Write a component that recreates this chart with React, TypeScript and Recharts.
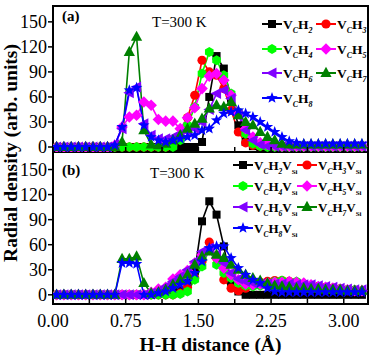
import React from 'react';
import { LineChart, Line, XAxis, YAxis, ReferenceArea, Legend } from 'recharts';

const distance = [0.0375, 0.1125, 0.1875, 0.2625, 0.3375, 0.4125, 0.4875, 0.5625, 0.6375, 0.7125, 0.7875, 0.8625, 0.9375, 1.0125, 1.0875, 1.1625, 1.2375, 1.3125, 1.3875, 1.4625, 1.5375, 1.6125, 1.6875, 1.7625, 1.8375, 1.9125, 1.9875, 2.0625, 2.1375, 2.2125, 2.2875, 2.3625, 2.4375, 2.5125, 2.5875, 2.6625, 2.7375, 2.8125, 2.8875, 2.9625, 3.0375, 3.1125, 3.1875];

const xTicks = [0, 0.375, 0.75, 1.125, 1.5, 1.875, 2.25, 2.625, 3.0];
const xTickLabels = ['0.00', '', '0.75', '', '1.50', '', '2.25', '', '3.00'];
const yTicks = [0, 30, 60, 90, 120, 150];

// panel (a): VCHn
const A_VCH2 = [0,0,0,0,0,0,0,0,0,0, 0,0,0,0,0,0,0,0,0,0, 6,60,109,94,58,26,6,1,0,0, 0,0,0,0,0,0,0,0,0,0, 0,0,0];
const A_VCH3 = [0,0,0,0,0,0,0,0,0,0, 0,0,0,0,0,0,3,12,35,62, 104,90,86,70,44,18,5,2,1,1, 1,1,1,1,1,1,1,1,1,1, 1,1,1];
const A_VCH4 = [0,0,0,0,0,0,0,0,0,0, 0,0,0,0,0,0,0,8,26,48, 88,114,104,86,64,42,16,4,1,0, 0,0,0,0,0,0,0,0,0,0, 0,0,0];
const A_VCH5 = [0,0,0,0,0,0,0,0,2,24, 36,38,54,50,33,31,31,22,35,47, 70,85,88,80,62,40,22,12,5,3, 2,1,1,1,1,1,1,1,1,1, 1,1,1];
const A_VCH6 = [0,0,0,0,0,0,0,0,3,22, 65,72,28,14,10,10,12,16,18,22, 30,45,64,68,58,38,20,8,3,1, 1,1,1,1,1,1,1,1,1,1, 1,1,1];
const A_VCH7 = [0,0,0,0,0,0,0,0,0,6, 114,132,20,3,2,4,8,14,22,28, 34,46,50,48,54,38,30,26,18,12, 8,4,3,3,3,3,3,3,3,3, 3,3,3];
const A_VCH8 = [0,0,0,0,0,0,0,0,2,24, 68,71,26,12,8,6,8,10,12,14, 20,22,32,40,42,44,40,36,30,24, 18,12,7,5,4,4,4,4,4,4, 4,4,4];

// panel (b): VCHnVSi
const B_VCH2 = [0,0,0,0,0,0,0,0,0,0, 0,0,0,0,2,3,4,5,14,28, 88,112,96,58,15,4,0,0,0,0, 0,0,0,0,0,0,0,0,0,0, 0,0,0];
const B_VCH3 = [0,0,0,0,0,0,0,0,0,0, 0,0,0,0,0,0,0,2,9,20, 40,63,44,18,8,5,8,12,15,16, 17,17,16,15,13,11,10,9,8,7, 6,5,5];
const B_VCH4 = [0,0,0,0,0,0,0,0,0,0, 0,0,0,0,0,0,0,1,4,18, 34,54,36,26,20,14,11,10,11,13, 16,17,15,16,12,10,9,8,7,7, 6,6,5];
const B_VCH5 = [0,0,0,0,0,0,0,0,0,0, 0,0,0,3,7,9,19,24,29,38, 48,54,44,32,24,18,13,12,13,14, 15,15,16,15,14,12,10,9,8,7, 6,5,5];
const B_VCH6 = [0,0,0,0,0,0,0,0,0,0, 0,0,0,2,5,10,16,22,30,40, 52,56,48,38,26,19,16,14,13,13, 13,13,13,12,12,12,11,10,9,8, 7,6,6];
const B_VCH7 = [0,0,0,0,0,0,0,0,0,43, 43,46,14,2,3,6,12,18,24,36, 46,52,48,44,36,30,24,20,17,14, 11,10,9,8,8,7,7,6,6,6, 5,5,5];
const B_VCH8 = [0,0,0,0,0,0,0,0,0,38, 38,37,0,0,2,4,8,12,16,26, 40,56,58,58,44,32,24,18,14,8, 4,3,3,3,3,3,3,3,3,3, 3,3,3];

const hydrogen = ['2', '3', '4', '5', '6', '7', '8'];
const colors = ['#000000', '#ff0000', '#00ff00', '#ff00ff', '#8000ff', '#008000', '#0000ff'];
const shapes = ['square', 'circle', 'hexagon', 'diamond', 'triangleLeft', 'triangleUp', 'star'];

const seriesA = [A_VCH2, A_VCH3, A_VCH4, A_VCH5, A_VCH6, A_VCH7, A_VCH8];
const seriesB = [B_VCH2, B_VCH3, B_VCH4, B_VCH5, B_VCH6, B_VCH7, B_VCH8];

const FONT = '"Liberation Serif", "Times New Roman", serif';

const buildRows = (series: number[][]) =>
  distance.map((d, i) => {
    const row: any = { d };
    series.forEach((s, j) => {
      row['s' + j] = s[i];
    });
    return row;
  });

const rowsA = buildRows(seriesA);
const rowsB = buildRows(seriesB);

function Marker({ cx, cy, shape, color }: { cx: number; cy: number; shape: string; color: string }) {
  if (cx == null || cy == null || isNaN(cx) || isNaN(cy)) return null;
  switch (shape) {
    case 'square':
      return <rect x={cx - 4} y={cy - 4} width={8} height={8} fill={color} />;
    case 'circle':
      return <circle cx={cx} cy={cy} r={4.6} fill={color} />;
    case 'hexagon': {
      const pts: string[] = [];
      for (let i = 0; i < 6; i++) {
        const a = (Math.PI / 3) * i + Math.PI / 6;
        pts.push(`${cx + 5 * Math.cos(a)},${cy + 5 * Math.sin(a)}`);
      }
      return <polygon points={pts.join(' ')} fill={color} />;
    }
    case 'diamond':
      return <polygon points={`${cx},${cy - 5.8} ${cx + 5.8},${cy} ${cx},${cy + 5.8} ${cx - 5.8},${cy}`} fill={color} />;
    case 'triangleLeft':
      return <polygon points={`${cx - 6},${cy} ${cx + 4.5},${cy - 5.5} ${cx + 4.5},${cy + 5.5}`} fill={color} />;
    case 'triangleUp':
      return <polygon points={`${cx},${cy - 6.2} ${cx + 5.6},${cy + 4} ${cx - 5.6},${cy + 4}`} fill={color} />;
    case 'star': {
      const pts: string[] = [];
      for (let i = 0; i < 10; i++) {
        const r = i % 2 === 0 ? 6 : 2.5;
        const a = -Math.PI / 2 + (Math.PI / 5) * i;
        pts.push(`${cx + r * Math.cos(a)},${cy + r * Math.sin(a)}`);
      }
      return <polygon points={pts.join(' ')} fill={color} />;
    }
    default:
      return null;
  }
}

const makeXTick = (showLabels: boolean) => (props: any) => {
  const { x, y, payload } = props;
  const idx = xTicks.indexOf(payload.value);
  const label = idx >= 0 ? xTickLabels[idx] : '';
  return (
    <g>
      <line x1={x} y1={y} x2={x} y2={y - 5} stroke="#000" strokeWidth={1.5} />
      {showLabels && label ? (
        <text x={x} y={y + 22.5} textAnchor="middle" fontSize={18} fontFamily={FONT} fill="#000">
          {label}
        </text>
      ) : null}
    </g>
  );
};

function LegendLabel({ n, withSi }: { n: string; withSi: boolean }) {
  const big = withSi ? 13 : 13.5;
  const small = withSi ? 7.5 : 8;
  const sub: React.CSSProperties = { fontSize: small, fontStyle: 'italic', verticalAlign: 'sub', lineHeight: 0 };
  const subSi: React.CSSProperties = { fontSize: small - 0.5, verticalAlign: 'sub', lineHeight: 0 };
  return (
    <span style={{ fontFamily: FONT, fontWeight: 'bold', fontSize: big, color: '#000', whiteSpace: 'nowrap' }}>
      V<span style={sub}>C</span>H<span style={sub}>{n}</span>
      {withSi ? (
        <>
          V<span style={subSi}>Si</span>
        </>
      ) : null}
    </span>
  );
}

const makeLegend = (withSi: boolean, colW: number, rowH: number) => () => (
  <div style={{ display: 'grid', gridTemplateColumns: `${colW}px ${colW}px`, gridAutoRows: `${rowH}px` }}>
    {hydrogen.map((n, i) => (
      <div key={n} style={{ display: 'flex', alignItems: 'center', whiteSpace: 'nowrap' }}>
        <svg width={20} height={14} style={{ flex: 'none' }}>
          <line x1={0} y1={7} x2={20} y2={7} stroke={colors[i]} strokeWidth={2} />
          <Marker cx={10} cy={7} shape={shapes[i]} color={colors[i]} />
        </svg>
        <span style={{ marginLeft: 1 }}>
          <LegendLabel n={n} withSi={withSi} />
        </span>
      </div>
    ))}
  </div>
);

function renderLines(prefix: string) {
  return hydrogen.map((n, j) => (
    <Line
      key={prefix + n}
      type="linear"
      dataKey={'s' + j}
      name={prefix + n}
      stroke={colors[j]}
      strokeWidth={1.6}
      isAnimationActive={false}
      dot={(p: any) => <Marker key={prefix + j + '-' + p.index} cx={p.cx} cy={p.cy} shape={shapes[j]} color={colors[j]} />}
      activeDot={false}
    />
  ));
}

const yTickStyle = { fontSize: 18, fontFamily: FONT, fill: '#000' };

export default function App() {
  return (
    <div style={{ position: 'absolute', left: 0, top: 0, width: 375, height: 358, background: '#fff', fontFamily: FONT }}>
      <div style={{ position: 'absolute', left: 0, top: 0 }}>
        <LineChart width={375} height={160} data={rowsA} margin={{ top: 6, right: 7, bottom: 0, left: 0 }}>
          <XAxis
            dataKey="d"
            type="number"
            domain={[0, 3.25]}
            ticks={xTicks}
            interval={0}
            height={8}
            tickSize={0}
            tickMargin={0}
            axisLine={false}
            tickLine={false}
            tick={makeXTick(false)}
            allowDataOverflow
          />
          <YAxis
            domain={[-6, 169]}
            ticks={yTicks}
            interval={0}
            width={53}
            axisLine={false}
            tickSize={5}
            tickMargin={1}
            tickLine={{ stroke: '#000', strokeWidth: 1.5 }}
            tick={yTickStyle}
            allowDataOverflow
          />
          <ReferenceArea x1={0} x2={3.25} y1={-6} y2={169} fill="none" stroke="#000" strokeWidth={2} ifOverflow="visible" />
          {renderLines('VCH')}
          <Legend
            layout="horizontal"
            verticalAlign="middle"
            align="center"
            content={makeLegend(false, 54, 24.5)}
            wrapperStyle={{ position: 'absolute', left: 262, top: 12, width: 112, height: 100 }}
          />
        </LineChart>
      </div>
      <div style={{ position: 'absolute', left: 0, top: 152 }}>
        <LineChart width={375} height={206} data={rowsB} margin={{ top: 0, right: 7, bottom: 0, left: 0 }}>
          <XAxis
            dataKey="d"
            type="number"
            domain={[0, 3.25]}
            ticks={xTicks}
            interval={0}
            height={54}
            tickSize={0}
            tickMargin={0}
            axisLine={false}
            tickLine={false}
            tick={makeXTick(true)}
            allowDataOverflow
            label={{
              value: 'H-H distance (Å)',
              position: 'insideBottom',
              offset: 7,
              style: { fontSize: 19.5, fontWeight: 'bold', fontFamily: FONT, fill: '#000' },
            }}
          />
          <YAxis
            domain={[-11, 171]}
            ticks={yTicks}
            interval={0}
            width={53}
            axisLine={false}
            tickSize={5}
            tickMargin={1}
            tickLine={{ stroke: '#000', strokeWidth: 1.5 }}
            tick={yTickStyle}
            allowDataOverflow
          />
          <ReferenceArea x1={0} x2={3.25} y1={-11} y2={171} fill="none" stroke="#000" strokeWidth={2} ifOverflow="visible" />
          {renderLines('VCHVSi')}
          <Legend
            layout="horizontal"
            verticalAlign="middle"
            align="center"
            content={makeLegend(true, 64, 21)}
            wrapperStyle={{ position: 'absolute', left: 233, top: 2.5, width: 135, height: 90 }}
          />
        </LineChart>
      </div>
      <svg width={375} height={358} style={{ position: 'absolute', left: 0, top: 0, pointerEvents: 'none' }}>
        <text
          transform="translate(17,153) rotate(-90)"
          textAnchor="middle"
          fontSize={19.5}
          fontWeight="bold"
          fontFamily={FONT}
          fill="#000"
        >
          Radial density (arb. units)
        </text>
        <text x={62} y={21} fontSize={15} fontWeight="bold" fontFamily={FONT} fill="#000">(a)</text>
        <text x={152} y={27} fontSize={15} fontFamily={FONT} fill="#000">T=300 K</text>
        <text x={62} y={175} fontSize={15} fontWeight="bold" fontFamily={FONT} fill="#000">(b)</text>
        <text x={150} y={178} fontSize={15} fontFamily={FONT} fill="#000">T=300 K</text>
      </svg>
    </div>
  );
}
